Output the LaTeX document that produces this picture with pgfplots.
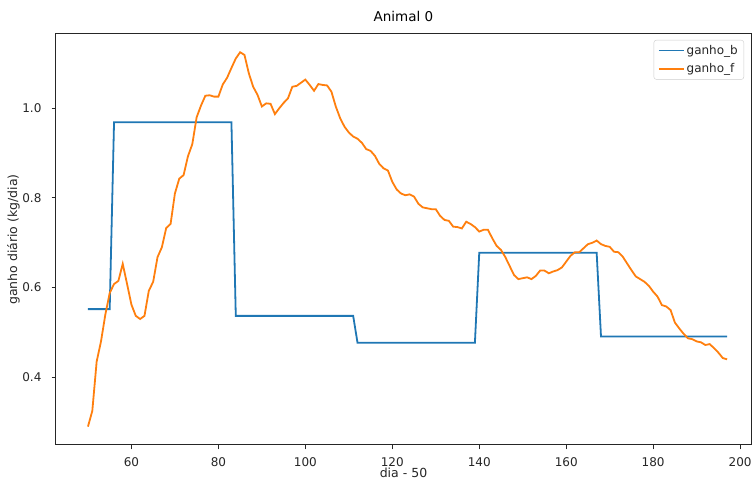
\documentclass[border=0pt]{standalone}
\usepackage{fontspec}
\setmainfont{DejaVu Sans}
\usepackage{pgfplots}
\usepackage{pgfplotstable}
\pgfplotsset{compat=1.18}
\definecolor{mplblue}{HTML}{1F77B4}
\definecolor{mplorange}{HTML}{FF7F0E}
\pgfplotstableread{
x y
50 0.552
55 0.552
56 0.969
83 0.969
84 0.537
111 0.537
112 0.477
139 0.477
140 0.678
167 0.678
168 0.491
197 0.491
}\tabb
\pgfplotstableread{
x y
50 0.290
51 0.325
52 0.435
53 0.480
54 0.540
55 0.588
56 0.608
57 0.615
58 0.653
59 0.608
60 0.562
61 0.537
62 0.530
63 0.537
64 0.593
65 0.613
66 0.668
67 0.690
68 0.733
69 0.742
70 0.810
71 0.843
72 0.851
73 0.893
74 0.920
75 0.980
76 1.006
77 1.028
78 1.029
79 1.026
80 1.026
81 1.053
82 1.068
83 1.090
84 1.111
85 1.125
86 1.119
87 1.078
88 1.048
89 1.030
90 1.004
91 1.011
92 1.010
93 0.987
94 1.000
95 1.012
96 1.022
97 1.048
98 1.050
99 1.057
100 1.064
101 1.052
102 1.039
103 1.054
104 1.052
105 1.051
106 1.037
107 1.004
108 0.978
109 0.959
110 0.946
111 0.937
112 0.932
113 0.923
114 0.909
115 0.905
116 0.894
117 0.876
118 0.866
119 0.861
120 0.836
121 0.819
122 0.810
123 0.806
124 0.808
125 0.803
126 0.787
127 0.779
128 0.777
129 0.775
130 0.775
131 0.760
132 0.751
133 0.749
134 0.736
135 0.735
136 0.732
137 0.747
138 0.742
139 0.735
140 0.725
141 0.729
142 0.729
143 0.710
144 0.693
145 0.684
146 0.668
147 0.648
148 0.628
149 0.619
150 0.621
151 0.623
152 0.619
153 0.626
154 0.638
155 0.638
156 0.632
157 0.636
158 0.639
159 0.645
160 0.658
161 0.671
162 0.679
163 0.679
164 0.688
165 0.697
166 0.700
167 0.705
168 0.697
169 0.693
170 0.691
171 0.680
172 0.679
173 0.669
174 0.654
175 0.639
176 0.625
177 0.619
178 0.613
179 0.604
180 0.591
181 0.580
182 0.561
183 0.558
184 0.550
185 0.522
186 0.509
187 0.497
188 0.487
189 0.485
190 0.480
191 0.478
192 0.472
193 0.474
194 0.465
195 0.455
196 0.443
197 0.440
}\tabf
\begin{document}
\begin{tikzpicture}
\path (-56pt,-36pt) rectangle (697pt,445pt);
\begin{axis}[
  at={(0,0)}, anchor=south west,
  scale only axis, width=695pt, height=411pt,
  xmin=42.65, xmax=202.5, ymin=0.249, ymax=1.1657,
  xtick={60,80,...,200}, ytick={0.4,0.6,0.8,1.0},
  yticklabel={\pgfmathprintnumber[fixed,fixed zerofill,precision=1,assume math mode=true]{\tick}},
  /pgf/number format/assume math mode=true,
  tick align=outside, major tick length=4.4pt,
  tick style={black!85, line width=1pt},
  axis line style={black!85, line width=1pt},
  xtick pos=bottom, ytick pos=left,
  ticklabel style={font=\fontsize{12}{14}\selectfont, text=black!85},
  xticklabel style={anchor=north, inner sep=0pt, yshift=-8pt},
  yticklabel style={anchor=east, inner sep=0pt, xshift=-10pt},
  xlabel={dia - 50}, ylabel={ganho diário (kg/dia)},
  label style={font=\fontsize{12.5}{14}\selectfont, text=black!85},
  xlabel style={at={(0.5,0)}, anchor=north, yshift=-23pt, inner sep=0pt},
  ylabel style={at={(0,0.5)}, anchor=south, yshift=36pt, inner sep=0pt},
  title={Animal 0},
  title style={font=\fontsize{13.5}{16}\selectfont, at={(0.5,1)}, anchor=south, yshift=6pt, inner sep=0pt},
  legend style={at={(1,1)}, anchor=north east, xshift=-7pt, yshift=-6pt,
    draw=black!20, rounded corners=2.5pt, font=\fontsize{12}{14}\selectfont,
    inner xsep=4pt, inner ysep=3pt, row sep=4pt, text=black!85},
  legend cell align=left,
  legend image code/.code={\draw[#1, line width=1.8pt] (0pt,0pt) -- (25pt,0pt);},
]
\addplot[mplblue, line width=1.8pt] table[x=x,y=y]{\tabb};
\addlegendentry{ganho\_b}
\addplot[mplorange, line width=1.8pt] table[x=x,y=y]{\tabf};
\addlegendentry{ganho\_f}
\end{axis}
\end{tikzpicture}
\end{document}
